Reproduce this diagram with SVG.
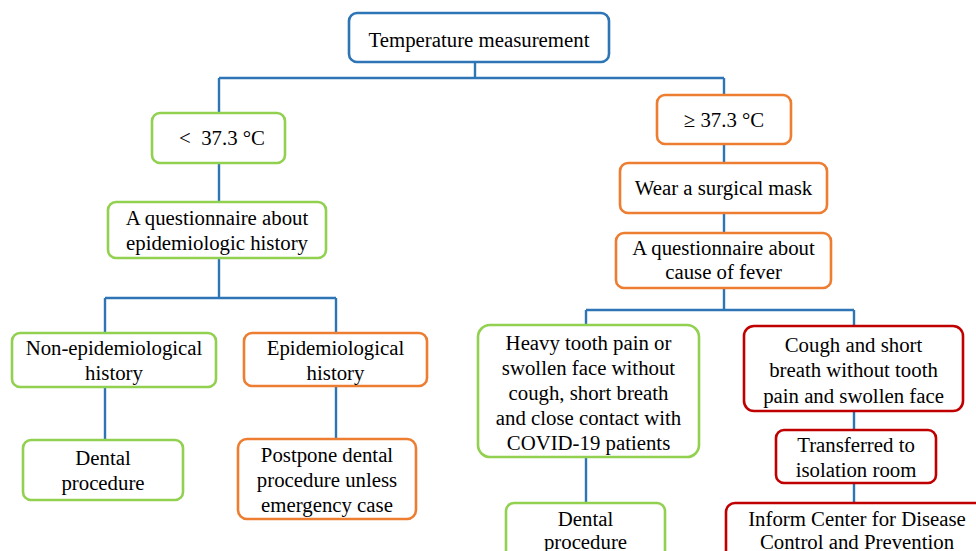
<svg xmlns="http://www.w3.org/2000/svg" width="976" height="551" viewBox="0 0 976 551">
<style>
.box{fill:#fff;stroke-width:2.6}
.b{stroke:#2E75B6}.g{stroke:#92D050}.o{stroke:#ED7D31}.r{stroke:#C00000}
text{font-family:"Liberation Serif","Times New Roman",serif;font-size:20.8px;fill:#000;text-anchor:middle}
.c{fill:none;stroke:#2E75B6;stroke-width:2.4}
</style>
<rect width="976" height="551" fill="#fff"/>
<g id="connectors">
<path class="c" d="M475,62V78M219,78H724M219,78V113M219,163V202M219,258V298M105,298H336M105,298V333M336,298V333M105,387V440M336,386V439"/>
<path class="c" d="M724,78V95M724,144V163M724,213V233M724,288V310M586,310H854M586,310V325M854,310V326M586,457V503M854,411V430M854,483V503"/>
</g>
<g id="temp"><rect class="box b" x="349" y="13" width="260" height="49" rx="8"/><text x="479" y="47">Temperature measurement</text></g>
<g id="lt"><rect class="box g" x="152" y="113" width="133" height="50" rx="8"/><text x="222" y="145" xml:space="preserve">&lt;  37.3 °C</text></g>
<g id="q1"><rect class="box g" x="108" y="202" width="218" height="56" rx="8"/><text x="217" y="225">A questionnaire about</text><text x="217" y="250">epidemiologic history</text></g>
<g id="nonepi"><rect class="box g" x="12" y="333" width="204" height="54" rx="8"/><text x="114" y="355">Non-epidemiological</text><text x="114" y="380">history</text></g>
<g id="epi"><rect class="box o" x="244" y="333" width="183" height="53" rx="8"/><text x="335.5" y="355">Epidemiological</text><text x="335.5" y="380">history</text></g>
<g id="dental1"><rect class="box g" x="23" y="440" width="160" height="60" rx="8"/><text x="103" y="465">Dental</text><text x="103" y="490">procedure</text></g>
<g id="postpone"><rect class="box o" x="238" y="439" width="178" height="80" rx="9"/><text x="327" y="462">Postpone dental</text><text x="327" y="487">procedure unless</text><text x="327" y="512">emergency case</text></g>
<g id="ge"><rect class="box o" x="657" y="95" width="134" height="49" rx="8"/><text x="724" y="127">≥ 37.3 °C</text></g>
<g id="mask"><rect class="box o" x="620" y="163" width="207" height="50" rx="8"/><text x="723.5" y="195">Wear a surgical mask</text></g>
<g id="q2"><rect class="box o" x="616" y="233" width="215" height="55" rx="8"/><text x="723.5" y="255">A questionnaire about</text><text x="723.5" y="279">cause of fever</text></g>
<g id="heavy"><rect class="box g" x="478" y="325" width="221" height="132" rx="12"/><text x="588.5" y="350">Heavy tooth pain or</text><text x="588.5" y="375">swollen face without</text><text x="588.5" y="400">cough, short breath</text><text x="588.5" y="425">and close contact with</text><text x="588.5" y="450">COVID-19 patients</text></g>
<g id="cough"><rect class="box r" x="744" y="326" width="219" height="85" rx="10"/><text x="853.5" y="352">Cough and short</text><text x="853.5" y="377">breath without tooth</text><text x="853.5" y="403">pain and swollen face</text></g>
<g id="transfer"><rect class="box r" x="776" y="430" width="160" height="53" rx="8"/><text x="856" y="452">Transferred to</text><text x="856" y="477">isolation room</text></g>
<g id="dental2"><rect class="box g" x="506" y="503" width="159" height="60" rx="8"/><text x="585.5" y="526">Dental</text><text x="585.5" y="549">procedure</text></g>
<g id="inform"><rect class="box r" x="726" y="503" width="262" height="60" rx="9"/><text x="857" y="526">Inform Center for Disease</text><text x="857" y="549">Control and Prevention</text></g>
</svg>
